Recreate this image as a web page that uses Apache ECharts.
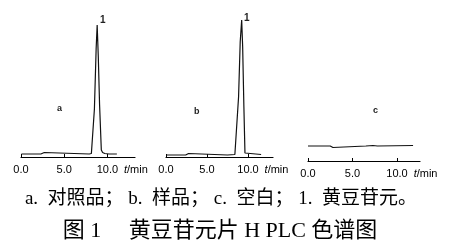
<!DOCTYPE html>
<html><head><meta charset="utf-8">
<script src="https://cdn.jsdelivr.net/npm/echarts@6/dist/echarts.min.js"></script>
<style>html,body{margin:0;padding:0;background:#fff}#c{width:450px;height:251px}</style>
</head><body><div id="c"></div>
<script>
// ---- data ----
const tickValues = [0, 5, 10];
const tickLabels = ['0.0', '5.0', '10.0'];
const axisUnit = 't/min';
const panelNames = ['a', 'b', 'c'];
const peakName = '1';
// [retention time (min), detector response (arbitrary units)]
const traceA = [[0.05,3],[2.3,3],[2.45,4.5],[2.7,4.5],[2.85,3],[7.9,3],[8.15,3.5],[8.3,4.5],[8.5,48],[8.7,108],[8.82,132],[8.95,100],[9.1,52],[9.3,7],[9.45,4.5],[9.7,3.5],[10.2,3],[11.1,3]];
const traceB = [[0,2],[2.4,2],[2.55,3.5],[2.75,3.5],[2.9,2],[7.5,2],[8.4,2.5],[8.62,4],[8.85,60],[9.05,115],[9.23,137],[9.35,110],[9.5,50],[9.63,4],[9.8,3],[11.6,2.5]];
const traceC = [[0,15],[2.5,15],[2.7,14],[2.8,13.5],[2.95,15],[6.5,15],[7.3,15.5],[7.8,15],[11.8,15.5]];
const captionNote = 'a.  对照品； b.  样品； c.  空白； 1.  黄豆苷元。';
const captionTitle = '图 1　 黄豆苷元片 H PLC 色谱图';

// ---- layout ----
const panels = [
  {data: traceA, left: 21, top: 17, width: 114, height: 140, xMax: 13.2, yMax: 140, nameGap: -15, label: [60, 110], peak: [103, 21]},
  {data: traceB, left: 166, top: 17, width: 107, height: 140, xMax: 13.05, yMax: 140, nameGap: -12, label: [197, 113], peak: [247, 19]},
  {data: traceC, left: 308, top: 16, width: 112, height: 145, xMax: 12.58, yMax: 145, nameGap: -9, label: [376, 112], peak: null}
];
const latin = "'Liberation Sans', Arial, sans-serif";
const capFont = "'Liberation Serif', 'Noto Sans CJK SC', serif";

const grid = [], xAxis = [], yAxis = [], series = [], graphic = [];
panels.forEach((p, i) => {
  grid.push({left: p.left, top: p.top, width: p.width, height: p.height, containLabel: false});
  xAxis.push({
    type: 'value', gridIndex: i, min: 0, max: p.xMax, interval: 5,
    axisLine: {show: true, onZero: false, lineStyle: {color: '#000', width: 1.2}},
    axisTick: {show: true, inside: true, length: 3, customValues: tickValues, lineStyle: {color: '#000', width: 1}},
    axisLabel: {customValues: tickValues, margin: 7, color: '#000', fontSize: 11, fontFamily: latin,
      formatter: v => tickLabels[tickValues.indexOf(v)] || ''},
    splitLine: {show: false},
    name: '{i|t}/min', nameLocation: 'end', nameGap: p.nameGap,
    nameTextStyle: {verticalAlign: 'top', padding: [7, 0, 0, 0], color: '#000', fontSize: 11, fontFamily: latin,
      rich: {i: {fontStyle: 'italic', fontSize: 11, fontFamily: latin, color: '#000'}}}
  });
  yAxis.push({type: 'value', gridIndex: i, min: 0, max: p.yMax, show: false});
  series.push({
    type: 'line', xAxisIndex: i, yAxisIndex: i, data: p.data, symbol: 'none',
    lineStyle: {color: '#111', width: 1.2}, animation: false
  });
  graphic.push({type: 'text', left: p.label[0] - 3, top: p.label[1] - 6,
    style: {text: panelNames[i], font: "bold 9px " + latin, fill: '#222'}});
  if (p.peak) graphic.push({type: 'text', left: p.peak[0] - 3, top: p.peak[1] - 6,
    style: {text: peakName, font: "bold 10px " + latin, fill: '#222'}});
});
graphic.push({type: 'text', x: 221, y: 199, style: {text: captionNote, font: "19px " + capFont, fill: '#000', align: 'center', verticalAlign: 'middle'}});
graphic.push({type: 'text', x: 220, y: 231, style: {text: captionTitle, font: "22px " + capFont, fill: '#000', align: 'center', verticalAlign: 'middle'}});

const chart = echarts.init(document.getElementById('c'), null, {renderer: 'canvas'});
chart.setOption({backgroundColor: '#fff', animation: false, grid, xAxis, yAxis, series, graphic});
</script></body></html>
